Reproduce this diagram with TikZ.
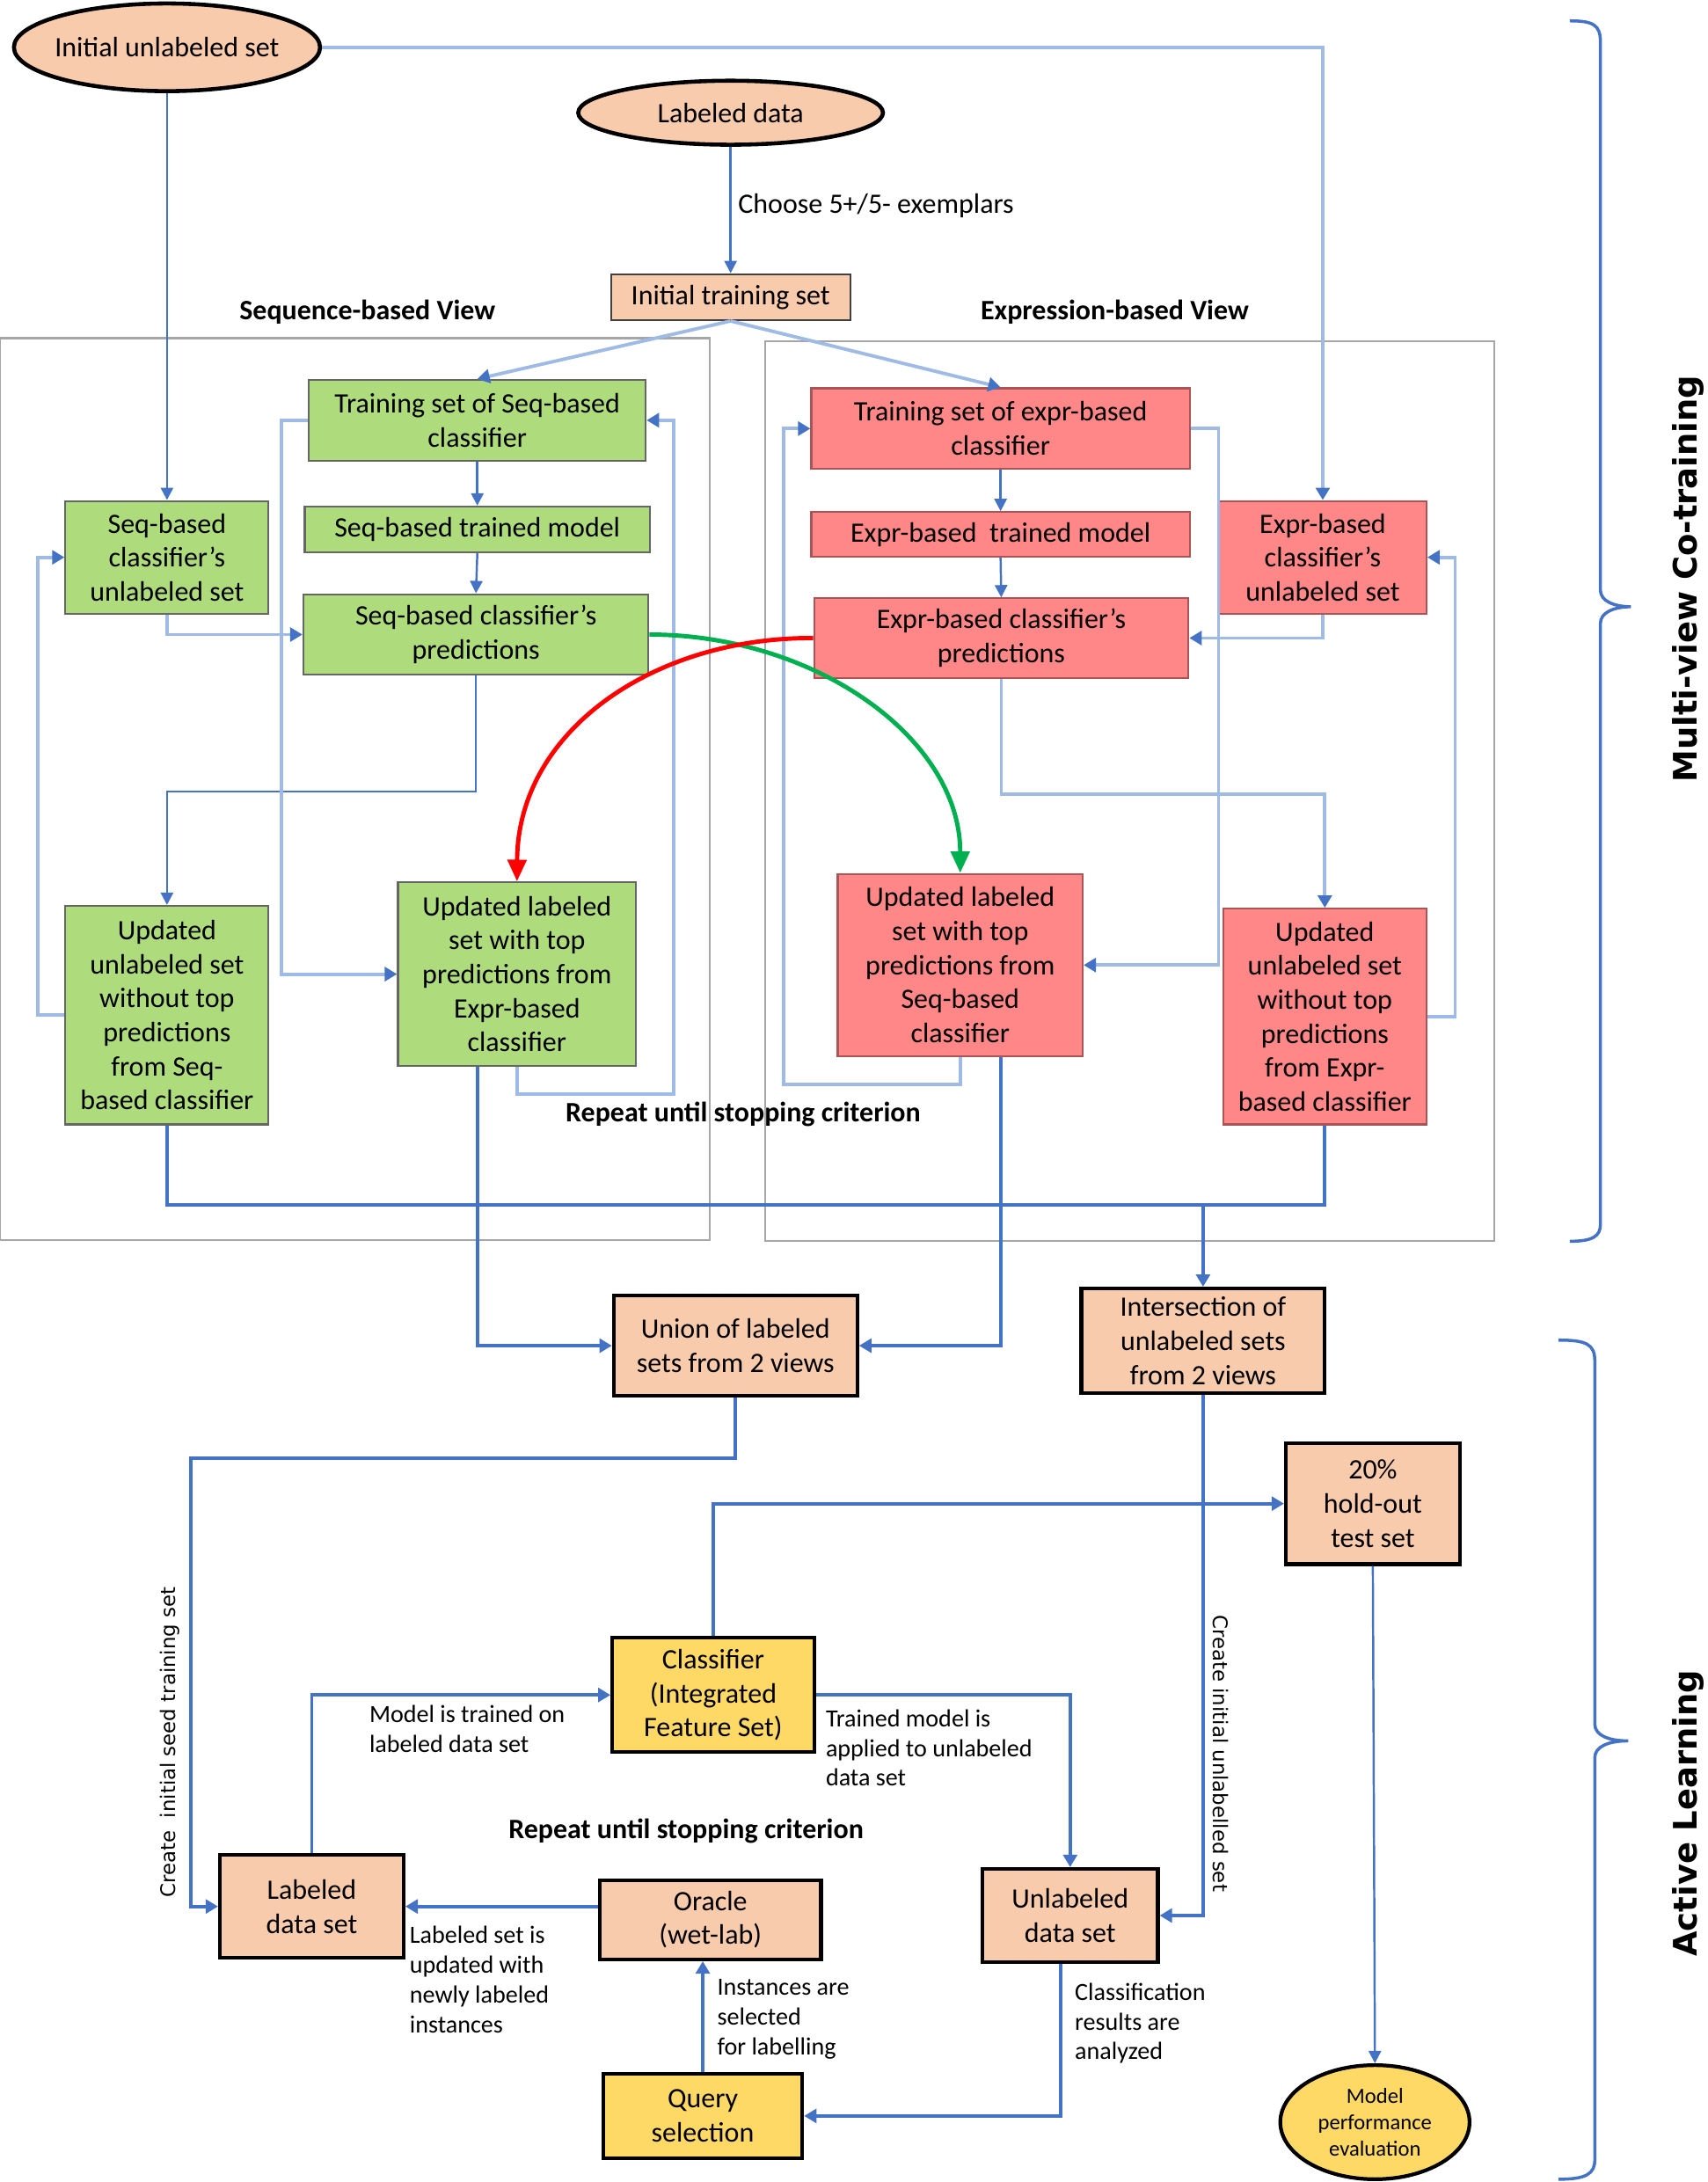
\documentclass[tikz,border=0pt]{standalone}
\usepackage{fontspec}
\setmainfont{Carlito}
\newfontfamily\verdfont{DejaVu Sans}
\usetikzlibrary{arrows.meta,shapes.geometric}

\definecolor{peach}{RGB}{248,203,173}
\definecolor{seqgreen}{RGB}{174,220,125}
\definecolor{exprred}{RGB}{255,135,135}
\definecolor{exprborder}{RGB}{170,85,85}
\definecolor{yell}{RGB}{255,217,102}
\definecolor{dblue}{RGB}{68,114,196}
\definecolor{lblue}{RGB}{160,186,230}
\definecolor{framegray}{RGB}{166,166,166}
\definecolor{arcgreen}{RGB}{0,176,80}

\tikzset{
  base/.style={font=\fontsize{9.1}{11}\selectfont, align=center, inner sep=0pt},
  sz/.style 2 args={minimum width=#1*0.01582cm, minimum height=#2*0.01582cm},
  seqbox/.style={base, rectangle, draw=black!60, fill=seqgreen, line width=0.6pt},
  exprbox/.style={base, rectangle, draw=exprborder, fill=exprred, line width=0.6pt},
  peachbox/.style={base, rectangle, draw=black, fill=peach, line width=1.2pt},
  yellowbox/.style={base, rectangle, draw=black, fill=yell, line width=1.2pt},
  startell/.style={base, ellipse, draw=black, fill=peach, line width=1.3pt},
  heading/.style={font=\fontsize{9.1}{11}\selectfont\bfseries, inner sep=0pt},
  note/.style={font=\fontsize{8}{9.6}\selectfont, align=left, inner sep=0pt, anchor=west},
  sidenote/.style={font=\verdfont\fontsize{6.5}{8}\selectfont, inner sep=0pt},
  bracelab/.style={font=\verdfont\bfseries\fontsize{10.5}{12}\selectfont, inner sep=0pt, rotate=90},
  darkline/.style={draw=dblue, line width=0.7pt, -{Triangle[width=4pt,length=4pt]}},
  mainline/.style={draw=dblue, line width=1.1pt, -{Triangle[width=4.5pt,length=4pt]}},
  lightline/.style={draw=lblue, line width=1.1pt, -{Triangle[width=4.5pt,length=4pt,color=dblue]}},
  swaparc/.style={line width=1.4pt, -{Triangle[width=6pt,length=7pt]}},
  viewframe/.style={draw=framegray, line width=0.6pt},
  curly/.style={draw=dblue, line width=1pt}
}

\begin{document}
\begin{tikzpicture}[x=0.01582cm, y=-0.01582cm]
\useasboundingbox (0,0) rectangle (1227,1568);

% view frames
\draw[viewframe] (0,243) rectangle (510,891);
\draw[viewframe] (550,245) rectangle (1074,892);
\node[heading] (seqview) at (264,224) {Sequence-based View};
\node[heading] (exprview) at (801,224) {Expression-based View};

% start
\node[startell, sz={220}{63}] (iu) at (120,34) {\makebox[0pt]{Initial unlabeled set}};
\node[startell, sz={219}{46}] (ld) at (525,81) {\makebox[0pt]{Labeled data}};
\node[base, rectangle, draw=black!75, fill=peach, line width=0.6pt, sz={172}{33}] (its) at (525,213.5) {Initial training set};
\node[base, anchor=west] (chooselab) at (530,148) {Choose 5+/5- exemplars};

% sequence-based view
\node[seqbox, sz={242}{58}] (ts) at (343,302) {Training set of Seq-based\\classifier};
\node[seqbox, sz={248}{33}] (tm) at (343,380.5) {Seq-based trained model};
\node[seqbox, sz={248}{58}] (sp) at (342,456) {Seq-based classifier’s\\predictions};
\node[seqbox, sz={146}{81}] (su) at (120,400.5) {Seq-based\\classifier’s\\unlabeled set};
\node[seqbox, sz={146}{157}] (suu) at (120,729.5) {Updated\\unlabeled set\\without top\\predictions\\from Seq-\\based classifier};
\node[seqbox, sz={171}{132}] (sul) at (371.5,700) {Updated labeled\\set with top\\predictions from\\Expr-based\\classifier};

% expression-based view
\node[exprbox, sz={272}{58}] (et) at (719,308) {Training set of expr-based\\classifier};
\node[exprbox, sz={272}{32}] (em) at (719,384) {Expr-based\ \ trained model};
\node[exprbox, sz={269}{57}] (ep) at (719.5,458.5) {Expr-based classifier’s\\predictions};
\node[exprbox, sz={149}{81}] (eu) at (950.5,400.5) {Expr-based\\classifier’s\\unlabeled set};
\node[exprbox, sz={176}{131}] (eul) at (690,693.5) {Updated labeled\\set with top\\predictions from\\Seq-based\\classifier};
\node[exprbox, sz={146}{155}] (euu) at (952,730.5) {Updated\\unlabeled set\\without top\\predictions\\from Expr-\\based classifier};

\node[heading] (repeattop) at (534,801) {Repeat until stopping criterion};

% active learning
\node[peachbox, sz={175}{72}] (un) at (528.5,967) {Union of labeled\\sets from 2 views};
\node[peachbox, sz={175}{75}] (inter) at (864.5,963.5) {Intersection of\\unlabeled sets\\from 2 views};
\node[peachbox, sz={125}{87}] (ho) at (986.5,1080.5) {20\%\\hold-out\\test set};
\node[yellowbox, sz={145}{82}] (cl) at (512.5,1218) {Classifier\\(Integrated\\Feature Set)};
\node[peachbox, sz={132}{74}] (lds) at (224,1370) {Labeled\\data set};
\node[peachbox, sz={159}{57}] (oracle) at (510.5,1379.5) {Oracle\\(wet-lab)};
\node[peachbox, sz={126}{67}] (uds) at (769,1376.5) {Unlabeled\\data set};
\node[yellowbox, sz={143}{61}] (qs) at (505,1520.5) {Query\\selection};
\node[base, ellipse, draw=black, fill=yell, line width=1.2pt, sz={136}{82}, font=\fontsize{7}{8.5}\selectfont] (mp) at (988,1525) {Model\\performance\\evaluation};
\node[heading] (repeatbot) at (493,1316) {Repeat until stopping criterion};

% connectors, top part
\draw[darkline] (iu.south) -- (su.north);
\draw[lightline] (iu.east) -| (eu.north);
\draw[darkline] (ld.south) -- (its.north);
\draw[lightline] (its.south) -- (ts.north);
\draw[lightline] (its.south) -- (et.north);

\draw[darkline] (ts.south) -- (tm.north);
\draw[darkline] (tm.south) -- (sp.north);
\draw[lightline] (su.south) |- (sp.west);
\draw[darkline] (sp.south) -- ++(0,83) -| (suu.north);
\draw[lightline] (suu.west) -- ++(-19,0) |- (su.west);
\draw[lightline] (ts.west) -- ++(-19,0) |- (sul.west);
\coordinate (seqback) at (484,786);
\draw[lightline] (sul.south) |- (seqback) |- (ts.east);

\draw[darkline] (et.south) -- (em.north);
\draw[darkline] (em.south) -- (ep.north);
\draw[lightline] (eu.south) |- (ep.east);
\draw[lightline] (ep.south) -- ++(0,83) -| (euu.north);
\draw[lightline] (euu.east) -- ++(20,0) |- (eu.east);
\draw[lightline] (et.east) -- ++(20,0) |- (eul.east);
\coordinate (exprback) at (563,779);
\draw[lightline] (eul.south) |- (exprback) |- (et.west);

% exchange of top predictions
\draw[swaparc, arcgreen] (sp.east) .. controls (585,456) and (690,530) .. (eul.north);
\draw[swaparc, red] (ep.west) .. controls (470,458) and (372,525) .. (sul.north);

% joining the two views
\draw[mainline] (sul.south -| tm.south) |- (un.west);
\draw[mainline] (eul.south -| em.south) |- (un.east);
\coordinate (join) at (864.5,866);
\draw[mainline, -] (suu.south) |- (join);
\draw[mainline] (euu.south) |- (join) -- (inter.north);

% connectors, active learning
\coordinate (seedturn) at (137,1048);
\draw[mainline] (un.south) |- (seedturn) |- (lds.west);
\node[sidenote, rotate=90] (seedlab) at (122,1252) {Create\ \ initial seed training set};
\draw[mainline] (inter.south) |- (uds.east);
\node[sidenote, rotate=-90] (unlab) at (877,1260) {Create initial unlabelled set};
\draw[mainline] (cl.north) |- (ho.west);
\draw[darkline] (ho.south) -- (mp.north);
\draw[mainline] (lds.north) |- (cl.west);
\node[note] (trainlab) at (265,1242.5) {Model is trained on\\labeled data set};
\draw[mainline] (cl.east) -| (uds.north);
\node[note] (applylab) at (593,1256) {Trained model is\\applied to unlabeled\\data set};
\draw[mainline] (oracle.west |- lds.east) -- (lds.east);
\node[note] (updlab) at (294,1422.5) {Labeled set is\\updated with\\newly labeled\\instances};
\draw[mainline] (qs.north) -- (qs.north |- oracle.south);
\node[note] (sellab) at (515,1451) {Instances are\\selected\\for labelling};
\draw[mainline] ([xshift=-0.11cm]uds.south) |- (qs.east);
\node[note] (anlab) at (772,1454) {Classification\\results are\\analyzed};

% braces
\draw[curly] (1128,15) .. controls (1145,15) and (1150,18) .. (1150,30) -- (1150,424)
  .. controls (1150,432) and (1160,436) .. (1172,436) .. controls (1160,436) and (1150,440) .. (1150,448)
  -- (1150,880) .. controls (1150,888) and (1145,892) .. (1128,892);
\draw[curly] (1120,963) .. controls (1140,963) and (1146,966) .. (1146,978) -- (1146,1239)
  .. controls (1146,1247) and (1156,1251) .. (1170,1251) .. controls (1156,1251) and (1146,1255) .. (1146,1263)
  -- (1146,1552) .. controls (1146,1562) and (1140,1566) .. (1120,1566);
\node[bracelab] (mvlab) at (1213,416) {Multi-view Co-training};
\node[bracelab] (allab) at (1213,1303) {Active Learning};
\end{tikzpicture}
\end{document}
